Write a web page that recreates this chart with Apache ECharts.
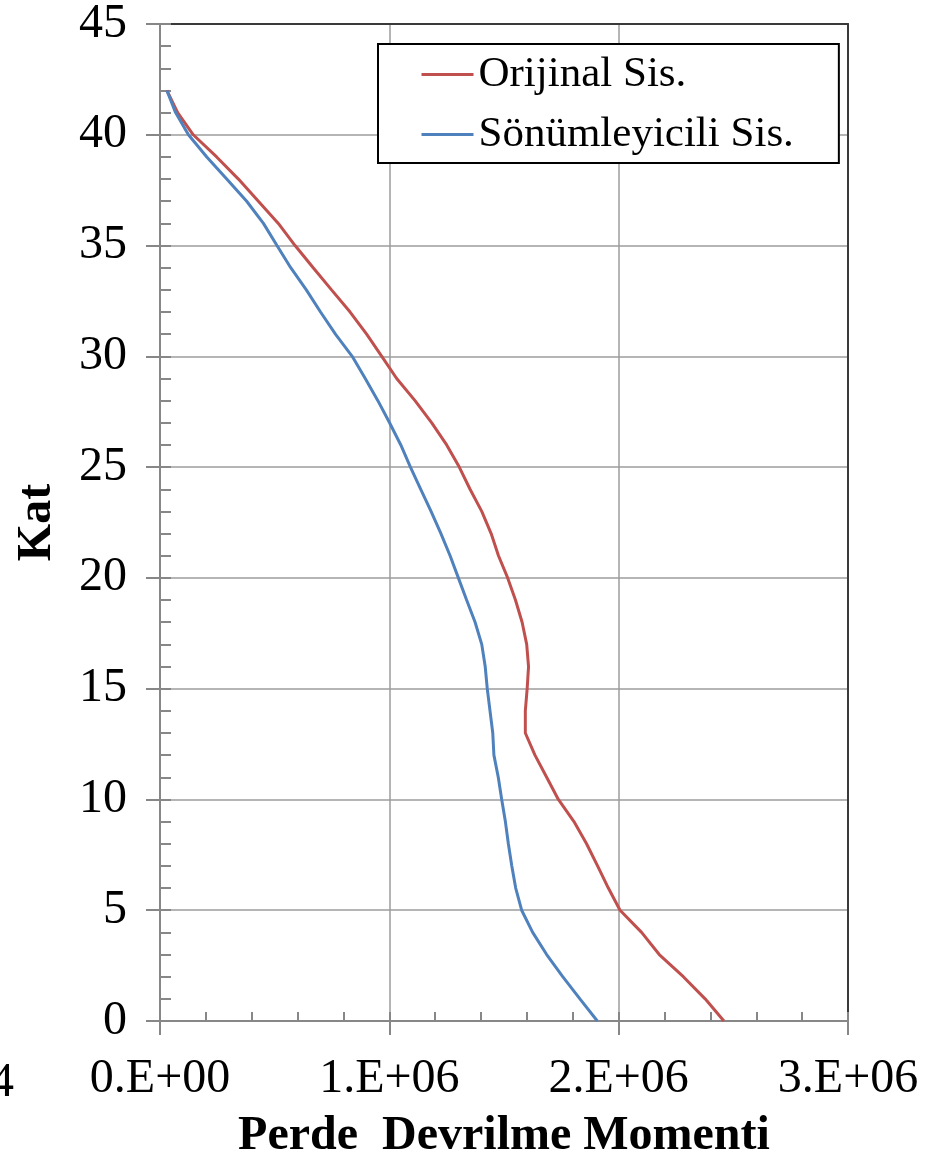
<!DOCTYPE html>
<html>
<head>
<meta charset="utf-8">
<script src="https://cdn.jsdelivr.net/npm/echarts@6/dist/echarts.min.js"></script>
<style>
  html, body { margin: 0; padding: 0; background: #fff; overflow: hidden; }
  #chart { width: 925px; height: 1166px; }
</style>
</head>
<body>
<div id="chart"></div>
<script>
// Floors (Kat) 0..42
const floors = [0,1,2,3,4,5,6,7,8,9,10,11,12,13,14,15,16,17,18,19,20,21,22,23,24,25,26,27,28,29,30,31,32,33,34,35,36,37,38,39,40,41,42];

// Overturning moment of the original system (x 1e6)
const orijinal = [2.459,2.377,2.282,2.177,2.100,2.006,1.955,1.908,1.860,1.805,1.737,1.686,1.635,1.593,1.593,1.601,1.607,1.599,1.579,1.550,1.516,1.476,1.444,1.403,1.352,1.305,1.250,1.185,1.112,1.032,0.967,0.901,0.829,0.748,0.668,0.589,0.516,0.429,0.342,0.247,0.145,0.077,0.030];

// Overturning moment of the damped system (x 1e6)
const sonumleyicili = [1.907,1.831,1.756,1.686,1.625,1.577,1.551,1.534,1.519,1.506,1.490,1.475,1.456,1.451,1.439,1.427,1.418,1.403,1.374,1.337,1.301,1.265,1.225,1.182,1.137,1.092,1.050,1.001,0.950,0.895,0.838,0.765,0.700,0.638,0.570,0.510,0.451,0.378,0.291,0.204,0.124,0.068,0.030];

const seriesNames = ['Orijinal Sis.', 'Sönümleyicili Sis.'];
const xTickLabels = ['0.E+00', '1.E+06', '2.E+06', '3.E+06'];
const xTickStep = 1e6;
const yTicks = { min: 0, max: 45, step: 5 };
const xTitle = 'Perde  Devrilme Momenti';
const yTitle = 'Kat';
const strayLabel = '4';

const FONT = '"Liberation Serif", "Times New Roman", serif';
const AXIS_GREY = '#878787';
const GRID_GREY = '#9c9c9c';
const FRAME = '#3a3a3a';

// plot box (px) and x tick-label offset below the axis
const GRID = { left: 160, top: 24, right: 77, bottom: 141 };
const X_LABEL_MARGIN = 34;
const CHART_H = 1166;

const toPairs = (vals) => vals.map((v, i) => [v * 1e6, floors[i]]);

const chart = echarts.init(document.getElementById('chart'), null, { renderer: 'canvas' });

const xMin = 0, xMax = xTickStep * (xTickLabels.length - 1);

chart.setOption({
  backgroundColor: '#fff',
  animation: false,
  textStyle: { fontFamily: FONT },
  grid: Object.assign({ containLabel: false }, GRID),
  legend: {
    orient: 'vertical',
    left: 378,
    top: 44,
    padding: [9, 45, 7, 42],
    itemWidth: 52,
    itemHeight: 14,
    itemGap: 17,
    borderColor: '#000',
    borderWidth: 2,
    backgroundColor: '#fff',
    itemStyle: { opacity: 0 },
    lineStyle: { width: 3 },
    textStyle: { fontFamily: FONT, fontSize: 43, color: '#000', lineHeight: 43 },
    data: seriesNames
  },
  xAxis: [
    {
      type: 'value', min: xMin, max: xMax, interval: xTickStep, position: 'bottom',
      axisLine: { show: true, onZero: false, lineStyle: { color: AXIS_GREY, width: 2 } },
      axisTick: { show: true, inside: false, length: 14, lineStyle: { color: AXIS_GREY, width: 2 } },
      axisLabel: {
        show: true, margin: X_LABEL_MARGIN, color: '#000', fontFamily: FONT, fontSize: 48,
        formatter: (v) => xTickLabels[Math.round(v / xTickStep)]
      },
      splitLine: { show: true, lineStyle: { color: GRID_GREY, width: 1.5 } },
      name: xTitle, nameLocation: 'middle', nameGap: 92,
      nameTextStyle: { fontFamily: FONT, fontSize: 48, fontWeight: 'bold', color: '#000' }
    },
    {
      type: 'value', min: xMin, max: xMax, interval: xTickStep, position: 'bottom',
      axisLine: { show: false, onZero: false },
      axisTick: { show: true, inside: true, length: 9, lineStyle: { color: AXIS_GREY, width: 2 } },
      minorTick: { show: true, splitNumber: 5, length: 9, lineStyle: { color: AXIS_GREY, width: 2 } },
      axisLabel: { show: false },
      splitLine: { show: false }
    },
    {
      type: 'value', min: xMin, max: xMax, position: 'top',
      axisLine: { show: true, onZero: false, lineStyle: { color: FRAME, width: 2 } },
      axisTick: { show: false }, axisLabel: { show: false }, splitLine: { show: false }
    }
  ],
  yAxis: [
    {
      type: 'value', min: yTicks.min, max: yTicks.max, interval: yTicks.step, position: 'left',
      axisLine: { show: true, onZero: false, lineStyle: { color: AXIS_GREY, width: 2 } },
      axisTick: { show: true, inside: false, length: 14, lineStyle: { color: AXIS_GREY, width: 2 } },
      axisLabel: { show: true, margin: 33, color: '#000', fontFamily: FONT, fontSize: 48 },
      splitLine: { show: true, lineStyle: { color: GRID_GREY, width: 1.5 } },
      name: yTitle, nameLocation: 'middle', nameGap: 98, nameRotate: 90,
      nameTextStyle: { fontFamily: FONT, fontSize: 48, fontWeight: 'bold', color: '#000' }
    },
    {
      type: 'value', min: yTicks.min, max: yTicks.max, interval: yTicks.step, position: 'left',
      axisLine: { show: false, onZero: false },
      axisTick: { show: true, inside: true, length: 11, lineStyle: { color: AXIS_GREY, width: 2 } },
      minorTick: { show: true, splitNumber: 5, length: 11, lineStyle: { color: AXIS_GREY, width: 2 } },
      axisLabel: { show: false },
      splitLine: { show: false }
    },
    {
      type: 'value', min: yTicks.min, max: yTicks.max, position: 'right',
      axisLine: { show: true, onZero: false, lineStyle: { color: FRAME, width: 2 } },
      axisTick: { show: false }, axisLabel: { show: false }, splitLine: { show: false }
    }
  ],
  graphic: [
    {
      // clipped label at the far left, on the same line as the x tick labels
      type: 'text', x: 14, y: CHART_H - GRID.bottom + X_LABEL_MARGIN,
      style: { text: strayLabel, font: '48px ' + FONT, fill: '#000', align: 'right', verticalAlign: 'top' }
    }
  ],
  series: [
    {
      name: seriesNames[0], type: 'line', xAxisIndex: 0, yAxisIndex: 0,
      data: toPairs(orijinal), symbol: 'none', smooth: false,
      color: '#C0504D', lineStyle: { color: '#C0504D', width: 3 }, z: 3
    },
    {
      name: seriesNames[1], type: 'line', xAxisIndex: 0, yAxisIndex: 0,
      data: toPairs(sonumleyicili), symbol: 'none', smooth: false,
      color: '#4F81BD', lineStyle: { color: '#4F81BD', width: 3 }, z: 4
    }
  ]
});
</script>
</body>
</html>
